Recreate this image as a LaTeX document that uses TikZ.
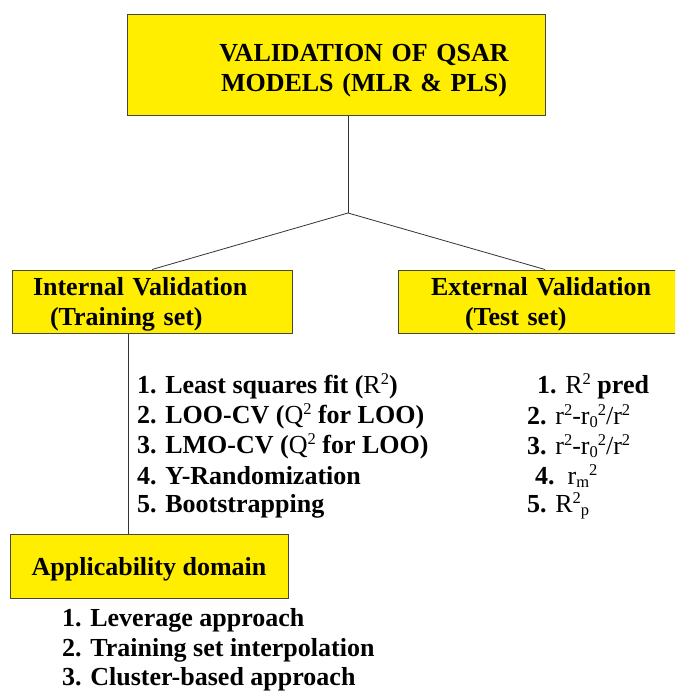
\documentclass[tikz,border=0pt]{standalone}
\usepackage{fontspec}
\setmainfont{Liberation Serif}
\definecolor{boxyellow}{RGB}{255,238,0}
\definecolor{boxline}{RGB}{70,70,60}
\newcommand{\sqsup}[1]{\raisebox{0.35em}{\fontsize{16.5}{16.5}\selectfont #1}}
\newcommand{\sqsub}[1]{\raisebox{-0.1em}{\fontsize{16.5}{16.5}\selectfont #1}}
\tikzset{
  ybox/.style={draw=boxline, line width=1pt, fill=boxyellow, inner sep=0pt,
    font=\fontsize{26}{30}\selectfont\bfseries},
  item/.style={anchor=west, inner sep=0pt, font=\fontsize{26}{30}\selectfont\bfseries},
  link/.style={draw=black!80, line width=0.8pt}
}
\begin{document}
\begin{tikzpicture}[x=1pt,y=-1pt]
\clip (0,0) rectangle (675,692);
\fill[white] (0,0) rectangle (675,692);

\node[ybox, minimum width=418pt, minimum height=101pt, text width=400pt, align=center,
      text height=20pt, text depth=27pt] (top) at (336,65.5)
      {\hspace*{56pt}VALIDATION OF QSAR\\\hspace*{56pt}MODELS (MLR \& PLS)};
\node[ybox, minimum width=280pt, minimum height=63pt, text width=238pt, align=left,
      text height=20pt, text depth=32pt] (intbox) at (152,301.5)
      {Internal Validation\\\hspace*{17pt}(Training set)};
\node[ybox, minimum width=294pt, minimum height=63pt, text width=240pt, align=left,
      text height=20pt, text depth=32pt] (extbox) at (545,301.5)
      {\hspace*{6pt}External Validation\\\hspace*{40pt}(Test set)};
\node[ybox, minimum width=278pt, minimum height=64pt,
      text height=22pt, text depth=3pt] (adbox) at (149,566)
      {Applicability domain};

\coordinate (split) at (348,213);
\draw[link] (top.south -| split) -- (split);
\draw[link] (split) -- (intbox.north);
\draw[link] (split) -- (extbox.north);
\draw[link] ([xshift=-24pt]intbox.south) -- ([xshift=-21pt]adbox.north);

% internal validation
\node[item] (i1) at (137,386) {1. Least squares fit ({\mdseries R\sqsup{2}})};
\node[item] (i2) at (137,416) {2. LOO-CV ({\mdseries Q\sqsup{2}} for LOO)};
\node[item] (i3) at (137,446) {3. LMO-CV ({\mdseries Q\sqsup{2}} for LOO)};
\node[item] (i4) at (137,476) {4. Y-Randomization};
\node[item] (i5) at (137,506) {5. Bootstrapping};

% external validation
\node[item] (e1) at (537,386) {1. {\mdseries R\sqsup{2}} pred};
\node[item] (e2) at (527,416) {2. {\mdseries r\sqsup{2}-r\sqsub{0}\sqsup{2}/r\sqsup{2}}};
\node[item] (e3) at (527,446) {3. {\mdseries r\sqsup{2}-r\sqsub{0}\sqsup{2}/r\sqsup{2}}};
\node[item] (e4) at (535,476) {4.\ \ {\mdseries r\sqsub{m}\sqsup{2}}};
\node[item] (e5) at (527,506) {5. {\mdseries R\sqsup{2}\sqsub{p}}};

% applicability domain
\node[item] (a1) at (62,620) {1. Leverage approach};
\node[item] (a2) at (62,650) {2. Training set interpolation};
\node[item] (a3) at (62,679) {3. Cluster-based approach};
\end{tikzpicture}
\end{document}
